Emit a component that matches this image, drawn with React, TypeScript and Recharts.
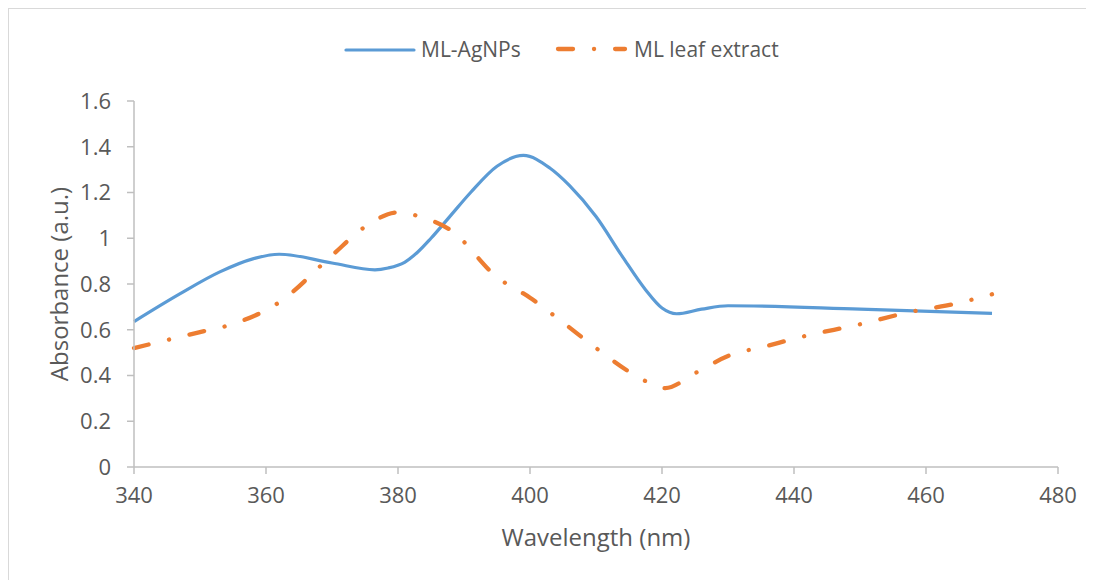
import { LineChart, Line, XAxis, YAxis } from "recharts";

const agnpWavelength = [340, 347, 353, 358, 362, 370, 376.5, 378.5, 381, 383, 385, 388, 391, 395, 399, 403, 406, 410, 414, 417.5, 420, 422.2, 426, 430, 450, 470];
const agnpAbsorbance = [0.636, 0.758, 0.853, 0.91, 0.93, 0.892, 0.862, 0.87, 0.895, 0.94, 1.0, 1.1, 1.2, 1.315, 1.362, 1.307, 1.23, 1.095, 0.92, 0.775, 0.695, 0.67, 0.69, 0.705, 0.69, 0.672];

const leafWavelength = [340, 350, 355, 362, 370, 375, 380, 384, 388, 395, 400, 405, 410, 416, 420.5, 425, 430, 436, 441, 450, 458, 463, 470];
const leafAbsorbance = [0.52, 0.59, 0.625, 0.72, 0.925, 1.05, 1.113, 1.088, 1.035, 0.83, 0.74, 0.632, 0.52, 0.4, 0.345, 0.41, 0.485, 0.53, 0.568, 0.624, 0.68, 0.705, 0.755];

const xTicks = [340, 360, 380, 400, 420, 440, 460, 480];
const yTicks = [0, 0.2, 0.4, 0.6, 0.8, 1, 1.2, 1.4, 1.6];

const BLUE = "#5b9bd5";
const ORANGE = "#ed7d31";
const TEXT = "#595959";
const AXIS = "#bfbfbf";
const FONT = "'Open Sans', sans-serif";
const DASH = "15 21 0.1 21";

const agnpData = agnpWavelength.map((x, i) => ({ x, y: agnpAbsorbance[i] }));
const leafData = leafWavelength.map((x, i) => ({ x, y: leafAbsorbance[i] }));

const tickStyle = { fill: TEXT, fontSize: 22, fontFamily: FONT };

export default function App() {
  return (
    <div
      style={{
        position: "relative",
        width: 1085,
        height: 571,
        borderTop: "1px solid #d9d9d9",
        borderLeft: "1px solid #d9d9d9",
        background: "#fff",
        fontFamily: FONT,
      }}
    >
      <LineChart width={1085} height={571} margin={{ top: 92, right: 36, bottom: 0, left: 0 }}>
        <XAxis
          type="number"
          dataKey="x"
          domain={[340, 480]}
          ticks={xTicks}
          tickSize={7}
          tickMargin={13}
          height={113}
          stroke={AXIS}
          strokeWidth={1.5}
          tick={tickStyle}
          label={{ value: "Wavelength (nm)", position: "center", dy: 14, fill: TEXT, fontSize: 24, fontFamily: FONT }}
        />
        <YAxis
          type="number"
          domain={[0, 1.6]}
          ticks={yTicks}
          width={125}
          tickSize={7}
          tickMargin={16}
          stroke={AXIS}
          strokeWidth={1.5}
          tick={tickStyle}
          label={{ value: "Absorbance (a.u.)", angle: -90, position: "center", dx: -12, fill: TEXT, fontSize: 24, fontFamily: FONT }}
        />
        <Line
          data={agnpData}
          dataKey="y"
          type="monotone"
          stroke={BLUE}
          strokeWidth={3.2}
          dot={false}
          activeDot={false}
          isAnimationActive={false}
        />
        <Line
          data={leafData}
          dataKey="y"
          type="monotone"
          stroke={ORANGE}
          strokeWidth={4.3}
          strokeDasharray={DASH}
          strokeLinecap="round"
          dot={false}
          activeDot={false}
          isAnimationActive={false}
        />
      </LineChart>
      {/* legend, drawn on top */}
      <svg width={1085} height={70} style={{ position: "absolute", left: 0, top: 0 }}>
        <line x1={337} y1={41} x2={405} y2={41} stroke={BLUE} strokeWidth={3.2} strokeLinecap="round" />
        <text x={412} y={48} fill={TEXT} fontSize={21} fontFamily={FONT}>ML-AgNPs</text>
        <line x1={549} y1={40} x2={616} y2={40} stroke={ORANGE} strokeWidth={4.3} strokeDasharray={DASH} strokeLinecap="round" />
        <text x={625} y={48} fill={TEXT} fontSize={21} fontFamily={FONT}>ML leaf extract</text>
      </svg>
    </div>
  );
}
